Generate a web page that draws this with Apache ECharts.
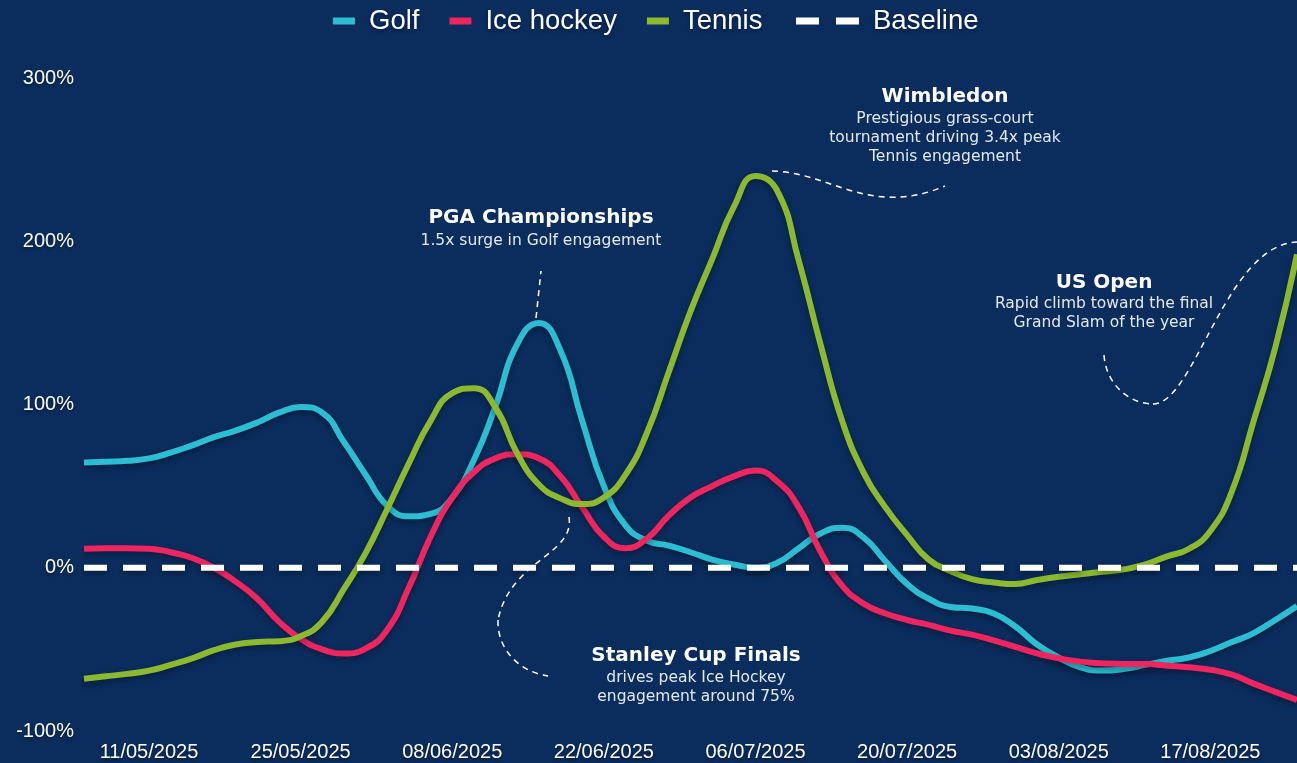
<!DOCTYPE html>
<html>
<head>
<meta charset="utf-8">
<script src="https://cdn.jsdelivr.net/npm/echarts@6/dist/echarts.min.js"></script>
<style>
  html, body { margin: 0; padding: 0; background: #0a2d5e; }
  #chart { width: 1297px; height: 763px; }
</style>
</head>
<body>
<div id="chart"></div>
<script>
// dates every 2 days, 05/05/2025 .. 25/08/2025
const startDate = Date.UTC(2025, 4, 5)
const dates = []
for (let i = 0; i < 57; i++) {
  const d = new Date(startDate + i * 2 * 86400000)
  const dd = String(d.getUTCDate()).padStart(2, '0')
  const mm = String(d.getUTCMonth() + 1).padStart(2, '0')
  dates.push(dd + '/' + mm + '/' + d.getUTCFullYear())
}

const tickLabels = ['11/05/2025', '25/05/2025', '08/06/2025', '22/06/2025',
  '06/07/2025', '20/07/2025', '03/08/2025', '17/08/2025']

// % change vs baseline
const golf = [64.5, 65, 65.5, 67, 70.5, 75, 80, 84, 89, 95,
  98.5, 95, 77, 57, 38, 31.5, 33, 43, 66, 99,
  137, 150, 133, 90, 50, 26, 16.5, 13.5, 9.5, 5,
  2, 0, 3, 12, 21, 24.5, 18.5, 4, -10, -19,
  -24, -25, -28, -36, -47, -55, -61, -63, -62, -59.5,
  -57, -55, -51, -45.5, -40, -32, -23.5]

const iceHockey = [11.6, 12, 12, 11.7, 9.5, 6, 0, -8.5, -19, -33,
  -43.6, -50, -52.5, -49.5, -38, -12, 19, 43, 58.5, 67,
  69.5, 67, 56, 37, 19, 12, 18, 32, 43, 50,
  56, 59.5, 53, 37, 10, -11, -22, -28, -32, -35,
  -38.5, -41, -44.5, -48.5, -52.5, -55.5, -57.5, -58.5, -59, -59,
  -60, -61, -62.5, -65.5, -71, -76, -81]

const tennis = [-68, -66.5, -65, -63, -59.5, -55.5, -50.5, -47, -45.5, -45,
  -42, -33, -13, 9, 36, 64, 90, 107, 110, 98,
  70, 51, 42.5, 39, 43, 57, 83, 120, 157, 189,
  221, 240, 231, 188, 137, 90, 58, 37, 20, 5,
  -2, -7, -9, -10, -7.5, -5.5, -4, -2.5, -1, 2,
  7, 11.5, 22.5, 47, 90, 135, 192]

const baseline = dates.map(() => 0)

const colors = { golf: '#2bbdd1', hockey: '#ef2560', tennis: '#8cb92f', base: '#ffffff' }
const annoFont = '"DejaVu Sans", Inter, sans-serif'

const shadow = { shadowColor: 'rgba(0,0,0,0.35)', shadowBlur: 6, shadowOffsetY: 3 }

function lineSeries(name, data, color) {
  return {
    name, type: 'line', data, smooth: 0.5, showSymbol: false,
    lineStyle: Object.assign({ color, width: 6 }, shadow),
    itemStyle: { color }
  }
}

function title(text, x, y) {
  return {
    type: 'text', x, y,
    style: { text, align: 'center', verticalAlign: 'middle', fill: '#ffffff',
      font: 'bold 20px ' + annoFont }
  }
}

function note(text, x, y) {
  return {
    type: 'text', x, y,
    style: { text, align: 'center', verticalAlign: 'top', fill: '#e3e9f2',
      font: '15.5px ' + annoFont, lineHeight: 19 }
  }
}

const dashStyle = { fill: null, stroke: '#ffffff', lineWidth: 1.5, lineDash: [6, 5] }

function straight(x1, y1, x2, y2) {
  return { type: 'line', shape: { x1, y1, x2, y2 }, style: dashStyle }
}

function curve(x1, y1, cpx1, cpy1, cpx2, cpy2, x2, y2) {
  return { type: 'bezierCurve', shape: { x1, y1, cpx1, cpy1, cpx2, cpy2, x2, y2 }, style: dashStyle }
}

const legendText = {
  color: '#ffffff', fontSize: 27.5, fontFamily: '"Liberation Sans", Arial, sans-serif',
  padding: [0, 0, 0, 9],
  textShadowColor: 'rgba(0,0,0,0.4)', textShadowBlur: 4, textShadowOffsetY: 2
}

const chart = echarts.init(document.getElementById('chart'))
chart.setOption({
  backgroundColor: '#0a2d5e',
  animation: false,
  legend: [
    {
      data: ['Golf', 'Ice hockey', 'Tennis'], left: 333, top: 7, padding: 0,
      icon: 'rect', itemWidth: 22, itemHeight: 7, itemGap: 30,
      textStyle: legendText
    },
    {
      data: ['Baseline'], left: 796, top: 7, padding: 0,
      icon: 'path://M0,0H23V7H0Z M40,0H63V7H40Z', itemWidth: 63, itemHeight: 7,
      textStyle: legendText
    }
  ],
  grid: { left: 84, right: -6, top: 78, bottom: 32 },
  xAxis: {
    type: 'category', data: dates, boundaryGap: false,
    axisLine: { show: false }, axisTick: { show: false },
    axisLabel: {
      interval: (i, v) => tickLabels.indexOf(v) >= 0,
      color: '#ffffff', fontSize: 20, margin: 11,
      fontFamily: '"Liberation Sans", Arial, sans-serif',
      textShadowColor: 'rgba(0,0,0,0.4)', textShadowBlur: 3, textShadowOffsetY: 2
    },
    splitLine: { show: false }
  },
  yAxis: {
    type: 'value', min: -100, max: 300, interval: 100,
    axisLine: { show: false }, axisTick: { show: false },
    splitLine: { show: false },
    axisLabel: {
      formatter: '{value}%', color: '#ffffff', fontSize: 20, margin: 10,
      fontFamily: '"Liberation Sans", Arial, sans-serif',
      textShadowColor: 'rgba(0,0,0,0.4)', textShadowBlur: 3, textShadowOffsetY: 2
    }
  },
  series: [
    lineSeries('Golf', golf, colors.golf),
    lineSeries('Ice hockey', iceHockey, colors.hockey),
    lineSeries('Tennis', tennis, colors.tennis),
    {
      name: 'Baseline', type: 'line', data: baseline, showSymbol: false, z: 5,
      lineStyle: Object.assign({ color: colors.base, width: 6, type: [23, 16] }, shadow),
      itemStyle: { color: colors.base }
    }
  ],
  graphic: [
    title('PGA Championships', 541, 218),
    note('1.5x surge in Golf engagement', 541, 231),
    straight(536, 318, 541, 271),

    title('Wimbledon', 945, 97),
    note('Prestigious grass-court\ntournament driving 3.4x peak\nTennis engagement', 945, 109),
    curve(772, 171, 830, 172, 870, 218, 945, 186),

    title('US Open', 1104, 283),
    note('Rapid climb toward the final\nGrand Slam of the year', 1104, 294),
    curve(1104, 355, 1106, 385, 1130, 404, 1153, 404),
    curve(1153, 404, 1195, 404, 1225, 245, 1297, 242),

    title('Stanley Cup Finals', 696, 656),
    note('drives peak Ice Hockey\nengagement around 75%', 696, 668),
    curve(569, 517, 575, 555, 510, 560, 498, 620),
    curve(498, 620, 497, 650, 520, 672, 548, 676)
  ]
})
</script>
</body>
</html>
